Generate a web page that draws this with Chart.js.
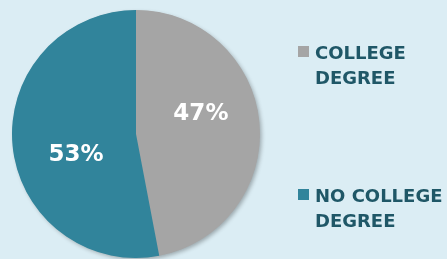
<!DOCTYPE html>
<html>
<head>
<meta charset="utf-8">
<script src="https://cdn.jsdelivr.net/npm/chart.js@4"></script>
<style>
  html, body { margin: 0; padding: 0; background: #dbedf4; }
  #wrap { width: 447px; height: 259px; position: relative; }
</style>
</head>
<body>
<div id="wrap"><canvas id="grafico"></canvas></div>
<script>
const categorias = ["COLLEGE DEGREE", "NO COLLEGE DEGREE"];
const valores = [47, 53];
const colores = ["#a5a5a5", "#31849b"];

const ctx = document.getElementById("grafico").getContext("2d");

// sombra suave detras del pastel completo
const sombra = {
  id: "sombra",
  beforeDatasetsDraw(chart) {
    const c = chart.ctx;
    const arc = chart.getDatasetMeta(0).data[0];
    if (!arc) return;
    const p = arc.getProps(["x", "y", "outerRadius"], true);
    c.save();
    c.shadowColor = "rgba(0,0,0,0.3)";
    c.shadowBlur = 4;
    c.shadowOffsetX = 2;
    c.shadowOffsetY = 2;
    c.fillStyle = "#a5a5a5";
    c.beginPath();
    c.arc(p.x, p.y, p.outerRadius - 0.5, 0, Math.PI * 2);
    c.fill();
    c.restore();
  },
};

// porcentajes dentro de cada sector
const etiquetas = {
  id: "etiquetas",
  afterDatasetsDraw(chart) {
    const c = chart.ctx;
    const meta = chart.getDatasetMeta(0);
    const ajustes = [[-3, -14], [8, 15]];
    c.save();
    c.fillStyle = "#ffffff";
    c.font = "bold 23px 'DejaVu Sans'";
    c.textAlign = "center";
    c.textBaseline = "middle";
    meta.data.forEach((arc, i) => {
      const p = arc.getProps(["x", "y", "startAngle", "endAngle", "outerRadius"], true);
      const ang = (p.startAngle + p.endAngle) / 2;
      const r = p.outerRadius * 0.55;
      const x = p.x + Math.cos(ang) * r + ajustes[i][0];
      const y = p.y + Math.sin(ang) * r + ajustes[i][1];
      c.fillText(valores[i] + "%", x, y);
    });
    c.restore();
  },
};

// leyenda a la derecha, texto en dos lineas
const leyenda = {
  id: "leyenda",
  afterDraw(chart) {
    const c = chart.ctx;
    const tops = [46, 189];
    c.save();
    c.font = "bold 18px 'DejaVu Sans'";
    c.textBaseline = "alphabetic";
    categorias.forEach((cat, i) => {
      const corte = cat.lastIndexOf(" ");
      const lineas = [cat.slice(0, corte), cat.slice(corte + 1)];
      c.fillStyle = colores[i];
      c.fillRect(298, tops[i], 11, 11);
      c.fillStyle = "#1f5767";
      lineas.forEach((l, j) => {
        c.fillText(l, 315, tops[i] + 13 + j * 25);
      });
    });
    c.restore();
  },
};

new Chart(ctx, {
  type: "pie",
  data: {
    labels: categorias,
    datasets: [
      {
        data: valores,
        backgroundColor: colores,
        borderWidth: 0,
      },
    ],
  },
  options: {
    responsive: true,
    maintainAspectRatio: false,
    animation: false,
    layout: { padding: { left: 12, top: 10, right: 187, bottom: 1 } },
    plugins: {
      legend: { display: false },
      tooltip: { enabled: false },
    },
  },
  plugins: [sombra, etiquetas, leyenda],
});
</script>
</body>
</html>
